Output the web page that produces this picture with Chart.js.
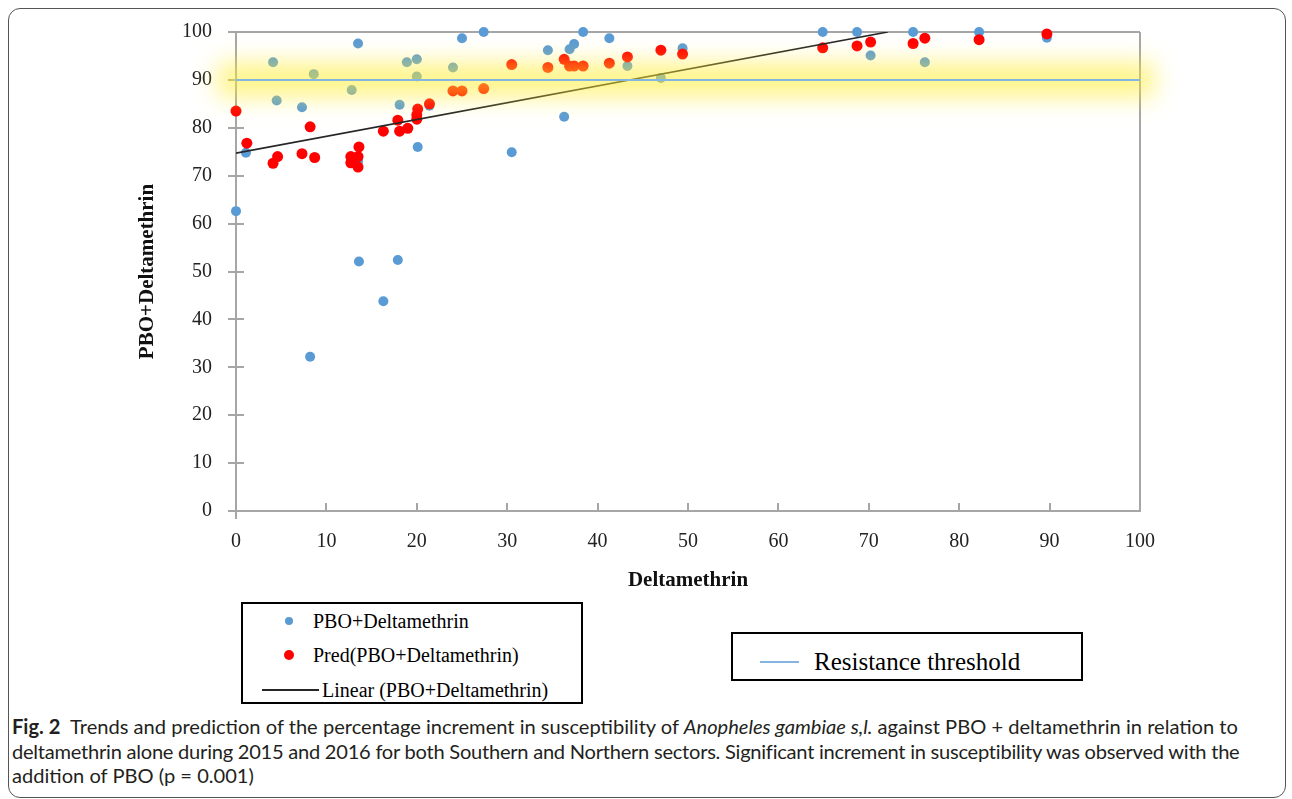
<!DOCTYPE html>
<html>
<head>
<meta charset="utf-8">
<script src="https://cdn.jsdelivr.net/npm/chart.js@4/dist/chart.umd.min.js"></script>
<style>
    body { margin: 0; background: #fff; width: 1292px; height: 799px; overflow: hidden; position: relative; }
    #frame { position: absolute; left: 8px; top: 8px; width: 1278px; height: 790px; box-sizing: border-box;
             border: 1px solid #555; border-radius: 12px; }
    #wrap { position: absolute; left: 0; top: 0; width: 1292px; height: 600px; }
    .legbox { position: absolute; box-sizing: border-box; border: 2px solid #000; background: #fff;
              font-family: "Liberation Serif", "Times New Roman", serif; color: #000; }
    .item { position: absolute; white-space: nowrap; }
    .dot { position: absolute; border-radius: 50%; }
    .ln { position: absolute; }
    #caption { position: absolute; left: 12px; top: 714px; width: 1300px; white-space: nowrap;
               font-family: Lato, "Open Sans", sans-serif; font-size: 20.1px; line-height: 24.5px; color: #231f20; }
</style>
</head>
<body>
<div id="frame"></div>
<div id="wrap"><canvas id="c"></canvas></div>
<div id="leg1" class="legbox" style="left:241px; top:602px; width:342px; height:102px;"></div>
<div id="leg2" class="legbox" style="left:731px; top:632px; width:352px; height:49px;"></div>
<div id="caption"><b>Fig. 2</b>&nbsp; Trends and prediction of the percentage increment in susceptibility of <i>Anopheles gambiae s,l.</i> against PBO + deltamethrin in relation to<br><span style="letter-spacing:-0.25px">deltamethrin alone during 2015 and 2016 for both Southern and Northern sectors. Significant increment in susceptibility was observed with the</span><br>addition of PBO (p = 0.001)</div>
<script>
// observed PBO+Deltamethrin vs Deltamethrin
const obsX = [0, 1.1, 4.1, 4.5, 7.3, 8.2, 8.6, 12.8, 13.5, 13.5, 13.6, 16.3, 17.9, 18.1, 18.9, 20.0, 20.0, 20.1, 21.4,
              24.0, 25.0, 27.4, 30.5, 34.5, 36.3, 36.9, 37.4, 38.4, 41.3, 43.3, 47.0, 49.4,
              64.9, 68.7, 70.2, 74.9, 76.2, 82.2, 89.7];
const obsY = [62.6, 74.8, 93.7, 85.7, 84.3, 32.2, 91.2, 87.9, 97.6, 73.0, 52.1, 43.8, 52.4, 84.8, 93.7, 94.3, 90.7, 76.0, 84.6,
              92.6, 98.7, 100, 74.9, 96.2, 82.3, 96.4, 97.5, 100, 98.7, 92.9, 90.4, 96.6,
              100, 100, 95.1, 100, 93.7, 100, 98.8];

// predicted values
const predX = [0, 1.2, 4.1, 4.6, 7.3, 8.2, 8.7, 12.7, 12.7, 13.5, 13.5, 13.6, 16.3, 17.9, 18.1, 19.0, 20.0, 20.0, 20.1, 21.4,
               24.0, 25.0, 27.4, 30.5, 34.5, 36.3, 36.9, 37.4, 38.4, 41.3, 43.3, 47.0, 49.4,
               64.9, 68.7, 70.2, 74.9, 76.2, 82.2, 89.7];
const predY = [83.5, 76.8, 72.6, 74.0, 74.6, 80.2, 73.8, 74.0, 72.7, 74.0, 71.8, 76.0, 79.3, 81.6, 79.3, 79.9, 81.8, 82.7, 83.9, 85.0,
               87.7, 87.7, 88.2, 93.2, 92.6, 94.3, 92.9, 92.9, 92.9, 93.5, 94.8, 96.2, 95.4,
               96.7, 97.1, 97.9, 97.6, 98.7, 98.4, 99.6];

// linear trend end points
const trendX = [0, 72.1];
const trendY = [74.7, 100];

const thresholdX = [0, 100];
const thresholdY = [90, 90];

const seriesNames = ['PBO+Deltamethrin', 'Pred(PBO+Deltamethrin)', 'Linear (PBO+Deltamethrin)', 'Resistance threshold'];
const colors = ['#5b9bd5', '#ff0000', '#262626', '#85b5e0'];

const axisTicks = [0, 10, 20, 30, 40, 50, 60, 70, 80, 90, 100];

function pts(xs, ys) {
    return xs.map((x, i) => ({ x: x, y: ys[i] }));
}

const serif = '"Liberation Serif", "Times New Roman", serif';
const gray = '#a6a6a6';

// tick marks like the original + the yellow glow around the threshold
const decor = {
    id: 'decor',
    beforeDatasetsDraw(chart) {
        const { ctx, scales: { x, y } } = chart;
        const left = x.getPixelForValue(0);
        const bottom = y.getPixelForValue(0);
        ctx.save();
        ctx.strokeStyle = gray;
        ctx.lineWidth = 2;
        ctx.beginPath();
        axisTicks.forEach(v => {
            const py = Math.round(y.getPixelForValue(v));
            ctx.moveTo(left - 8, py);
            ctx.lineTo(left + 8, py);
            const px = Math.round(x.getPixelForValue(v));
            ctx.moveTo(px, bottom - 8);
            ctx.lineTo(px, v === 0 ? bottom + 8 : bottom);
        });
        ctx.stroke();
        ctx.restore();
    },
    beforeDatasetDraw(chart, args) {
        if (args.index !== 3) return;
        const { ctx, scales: { x, y } } = chart;
        const py = y.getPixelForValue(thresholdY[0]);
        const x0 = x.getPixelForValue(0) - 18;
        const x1 = x.getPixelForValue(100) + 14;
        ctx.save();
        ctx.filter = 'blur(12px)';
        ctx.fillStyle = 'rgba(255, 236, 50, 0.6)';
        ctx.fillRect(x0, py - 17, x1 - x0, 34);
        ctx.restore();
    }
};

// fixed axis sizes so the plot box sits where the original one does
function fixX(s) {
    s.height = 82;
    s.paddingLeft = 0;
    s.paddingRight = 0;
}
function fixY(s) {
    s.width = 101;
    s.paddingTop = 0;
    s.paddingBottom = 0;
}

new Chart(document.getElementById('c'), {
    type: 'scatter',
    data: {
        datasets: [{
            label: seriesNames[0],
            data: pts(obsX, obsY),
            backgroundColor: colors[0],
            borderWidth: 0,
            pointRadius: 5,
            clip: false,
            order: 3
        }, {
            label: seriesNames[1],
            data: pts(predX, predY),
            backgroundColor: colors[1],
            borderWidth: 0,
            pointRadius: 5.5,
            clip: false,
            order: 2
        }, {
            label: seriesNames[2],
            data: pts(trendX, trendY),
            showLine: true,
            borderColor: colors[2],
            borderWidth: 1.6,
            pointRadius: 0,
            order: 1
        }, {
            label: seriesNames[3],
            data: pts(thresholdX, thresholdY),
            showLine: true,
            borderColor: colors[3],
            borderWidth: 2,
            pointRadius: 0,
            clip: false,
            order: 0
        }]
    },
    options: {
        responsive: true,
        maintainAspectRatio: false,
        animation: false,
        layout: { padding: { left: 135, top: 32, right: 152, bottom: 7 } },
        plugins: {
            legend: { display: false },
            tooltip: { enabled: false }
        },
        scales: {
            x: {
                type: 'linear',
                min: 0,
                max: 100,
                afterFit: fixX,
                ticks: { stepSize: 10, padding: 19, color: '#222', font: { family: serif, size: 20 } },
                grid: {
                    drawTicks: false,
                    lineWidth: 2,
                    color: ctx => (ctx.tick && ctx.tick.value === 100) ? gray : 'rgba(0,0,0,0)'
                },
                border: { color: gray, width: 2 },
                title: {
                    display: true,
                    text: 'Deltamethrin',
                    color: '#111',
                    padding: 0,
                    font: { family: serif, size: 21, weight: 'bold' }
                }
            },
            y: {
                min: 0,
                max: 100,
                afterFit: fixY,
                ticks: { stepSize: 10, padding: 24, color: '#222', font: { family: serif, size: 20 } },
                grid: {
                    drawTicks: false,
                    lineWidth: 2,
                    color: ctx => (ctx.tick && ctx.tick.value === 100) ? gray : 'rgba(0,0,0,0)'
                },
                border: { color: gray, width: 2 },
                title: {
                    display: true,
                    text: 'PBO+Deltamethrin',
                    color: '#111',
                    padding: 0,
                    font: { family: serif, size: 21, weight: 'bold' }
                }
            }
        }
    },
    plugins: [decor]
});

// legends built as html boxes
function addItem(box, text, left, cy, size) {
    const el = document.createElement('div');
    el.className = 'item';
    el.style.left = left + 'px';
    el.style.top = (cy - size * 0.6) + 'px';
    el.style.fontSize = size + 'px';
    el.style.lineHeight = (size * 1.2) + 'px';
    el.textContent = text;
    box.appendChild(el);
}
function addDot(box, color, cx, cy, r) {
    const el = document.createElement('div');
    el.className = 'dot';
    el.style.cssText = `left:${cx - r}px; top:${cy - r}px; width:${2 * r}px; height:${2 * r}px; background:${color}`;
    box.appendChild(el);
}
function addLine(box, color, x0, x1, cy, w) {
    const el = document.createElement('div');
    el.className = 'ln';
    el.style.cssText = `left:${x0}px; top:${cy - w / 2}px; width:${x1 - x0}px; height:${w}px; background:${color}`;
    box.appendChild(el);
}

const leg1 = document.getElementById('leg1');
// coordinates relative to the box inner edge (box at 241,602 with 2px border)
addDot(leg1, colors[0], 46, 17, 4);
addItem(leg1, seriesNames[0], 70, 17, 20);
addDot(leg1, colors[1], 46, 51, 5);
addItem(leg1, seriesNames[1], 70, 51, 20);
addLine(leg1, colors[2], 19, 76, 86, 1.5);
addItem(leg1, seriesNames[2], 79, 86, 20);

const leg2 = document.getElementById('leg2');
addLine(leg2, colors[3], 27, 66, 28, 2);
addItem(leg2, seriesNames[3], 81, 28, 25);
</script>
</body>
</html>
